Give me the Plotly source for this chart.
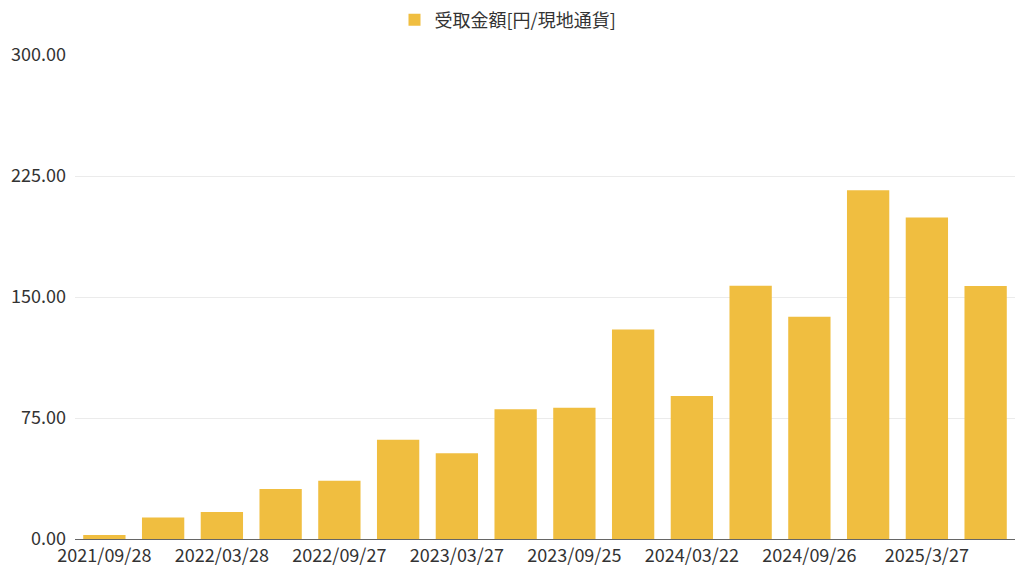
import plotly.graph_objects as go

dates = ["2021/09/28", "2021/12/28", "2022/03/28", "2022/06/28", "2022/09/27", "2022/12/27",
         "2023/03/27", "2023/06/27", "2023/09/25", "2023/12/26", "2024/03/22", "2024/06/26",
         "2024/09/26", "2024/12/26", "2025/3/27", "2025/06/26"]
amounts = [2.5, 13.4, 16.7, 31.0, 36.1, 61.5, 53.1, 80.4, 81.4, 129.9, 88.6, 157.0,
           137.8, 216.1, 199.2, 156.8]
shown_ticks = dates[::2]
y_ticks = [0, 75, 150, 225, 300]
series_name = "受取金額[円/現地通貨]"

font_family = "Noto Sans CJK JP, Noto Sans, sans-serif"

fig = go.Figure()
fig.add_trace(go.Bar(
    x=dates, y=amounts, name=series_name,
    marker=dict(color="#F0BE40", line=dict(width=0)),
    showlegend=True,
))

fig.update_layout(
    width=1024, height=576,
    margin=dict(l=67, r=17, t=47, b=45, autoexpand=False),
    paper_bgcolor="white", plot_bgcolor="white",
    bargap=0.28,
    font=dict(family=font_family, size=18, color="#333333"),
    legend=dict(orientation="h", xref="container", x=500 / 1024, xanchor="center",
                yref="container", y=1 - 12 / 576, yanchor="middle",
                font=dict(size=18, color="#333333"), traceorder="normal"),
    xaxis=dict(type="category", tickmode="array", tickvals=shown_ticks, ticktext=shown_ticks,
               showgrid=False, showline=True, linecolor="#666666", linewidth=1,
               ticks="", tickangle=0, tickfont=dict(size=18, color="#333333"), automargin=False),
    yaxis=dict(range=[0, 300], tickmode="array", tickvals=y_ticks,
               ticktext=[f"{v:.2f}" for v in y_ticks],
               showgrid=True, gridcolor="#EBEBEB", gridwidth=1, zeroline=False,
               ticks="", ticklabelstandoff=8, tickfont=dict(size=18, color="#333333"), automargin=False),
)

fig.write_html("out.html")
